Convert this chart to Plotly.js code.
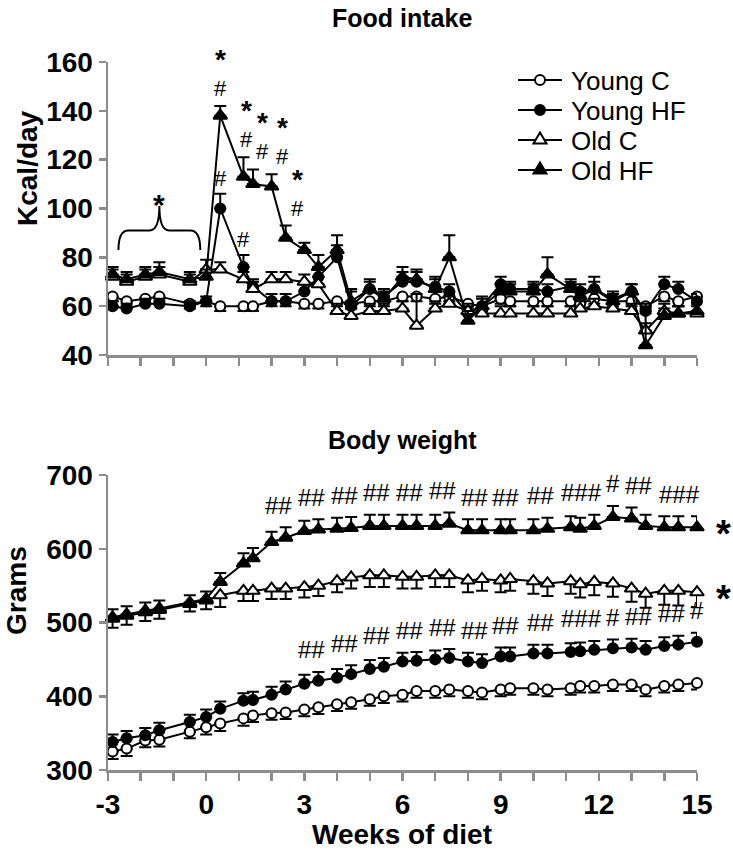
<!DOCTYPE html>
<html><head><meta charset="utf-8">
<script src="https://cdn.plot.ly/plotly-3.0.1.min.js"></script>
<style>html,body{margin:0;padding:0;background:#fff}#chart{width:733px;height:853px}</style>
</head><body><div id="chart"></div>
<script>
// ---------- DATA ----------
const weeks = [-2.86,-2.43,-1.86,-1.43,-0.5,0,0.43,1.14,1.43,2,2.43,3,3.43,4,4.43,5,5.43,6,6.43,7,7.43,8,8.43,9,9.29,10,10.43,11.14,11.43,11.86,12.43,13,13.43,14,14.43,15];
const seriesNames = ['Young C','Young HF','Old C','Old HF'];
const weekTickVals = [-3,0,3,6,9,12,15];
const weekTickText = ['-3','0','3','6','9','12','15'];

// Food intake (Kcal/day)
const foodYoungC    = [64,62,63,64,61,62,60,60,60,62,62,61,61,62,61,62,62,64,64,63,64,61,60,63,62,62,62,62,61,63,62,62,60,64,62,64];
const foodYoungCErr = [2,2,2,2,2,2,2,2,2,2,2,2,2,2,2,2,2,2,2,2,2,2,2,2,2,2,2,2,2,2,2,2,3,2,2,2];
const foodYoungHF    = [60,59,61,61,60,62,100,76,68,62,62,66,72,80,60,67,64,70,70,68,66,57,60,69,67,67,66,68,66,67,63,66,58,69,67,62];
const foodYoungHFErr = [2,2,2,2,2,2,6,5,3,3,3,3,4,5,7,4,3,4,4,4,3,3,3,3,3,3,3,3,3,5,3,3,3,3,3,3];
const foodOldC    = [72,70,72,73,70,75,75,71,67,71,71,70,69,58,56,58,58,59,52,59,61,58,57,57,57,57,57,57,59,60,59,58,50,58,57,57];
const foodOldCErr = [3,3,3,3,3,4,3,3,3,3,3,3,3,3,3,3,3,3,13,3,3,3,3,3,3,3,3,3,3,3,3,3,3,3,3,3];
const foodOldHF    = [73,71,73,74,71,72,138,113,110,109,88,83,76,83,62,67,63,72,71,67,80,54,60,66,66,66,73,67,64,67,62,66,44,56,57,58];
const foodOldHFErr = [3,3,3,4,3,3,4,8,6,5,5,3,5,6,4,3,3,4,4,4,9,4,4,3,3,3,7,3,3,3,3,3,15,3,3,3];

// Body weight (grams)
const bwYoungC    = [325,329,340,341,352,358,363,370,374,377,378,382,385,389,392,396,400,402,407,407,409,407,405,409,411,411,409,411,414,414,416,416,409,414,416,418];
const bwYoungCErr = [10,10,9,9,9,10,10,10,9,9,9,9,9,9,9,9,9,9,9,9,9,9,9,9,9,9,9,9,9,9,9,9,9,9,9,9];
const bwYoungHF    = [338,343,347,354,365,372,383,394,395,402,409,417,421,425,430,437,440,447,448,450,452,447,445,454,454,458,458,460,461,463,465,466,463,468,470,474];
const bwYoungHFErr = [10,10,10,10,10,10,10,10,11,11,11,12,12,12,12,12,12,12,12,12,12,12,12,12,12,12,12,12,12,12,12,12,12,12,12,12];
const bwOldC    = [505,509,514,517,525,530,537,543,543,546,546,548,550,556,561,564,564,562,562,564,564,557,559,557,559,556,553,556,552,555,553,546,539,543,543,541];
const bwOldCErr = [12,12,12,12,10,12,16,14,14,14,14,14,14,15,15,16,16,16,16,16,16,16,16,16,16,17,17,17,18,18,18,18,19,19,20,20];
const bwOldHF    = [507,511,516,519,527,532,555,580,587,609,615,624,626,627,628,631,631,631,631,631,634,625,625,625,625,625,627,629,627,631,643,641,631,629,629,629];
const bwOldHFErr = [11,11,11,11,10,10,12,14,14,14,14,14,14,15,15,15,15,15,15,15,15,15,15,15,15,15,15,15,15,15,15,15,15,15,15,15];

// Significance marks (groups of point indices)
const foodOldHFStarHash = [6,7,8,9,10];
const foodYoungHFHash = [6,7];
const bwOldHFHashGroups = [[9,10],[11,12],[13,14],[15,16],[17,18],[19,20],[21,22],[23,24],[25,26],[27,28,29],[30],[31,32],[33,34,35]];
const bwYoungHFHashGroups = [[11,12],[13,14],[15,16],[17,18],[19,20],[21,22],[23,24],[25,26],[27,28,29],[30],[31,32],[33,34],[35]];
const preDietIdx = [0,1,2,3,4,5];

// ---------- STYLE ----------
const FONT = 'Liberation Sans, Arial, Helvetica, sans-serif';
const AX = '#8c8c8c';
const plotTop = 62, plotBottom = 770, plotLeft = 108, plotW = 589;
const paperY = py => (plotBottom - py) / (plotBottom - plotTop);
const paperX = px => (px - plotLeft) / plotW;

function mkTrace(x, y, err, up, symbol, filled, xa, ya, name) {
  const zeros = err.map(() => 0);
  return {
    type: 'scatter', mode: 'lines+markers', x: x, y: y, name: name,
    showlegend: false, xaxis: xa, yaxis: ya, cliponaxis: false, hoverinfo: 'skip',
    line: {color: '#000', width: 2},
    marker: {symbol: symbol, size: symbol === 'circle' ? 10 : 12,
             color: filled ? '#000' : '#fff', line: {color: '#000', width: 2}},
    error_y: {type: 'data', symmetric: false,
              array: up ? err : zeros, arrayminus: up ? zeros : err,
              color: '#000', thickness: 2, width: 6}
  };
}

const traces = [
  mkTrace(weeks, foodYoungC, foodYoungCErr, false, 'circle', false, 'x', 'y', seriesNames[0]),
  mkTrace(weeks, foodYoungHF, foodYoungHFErr, true, 'circle', true, 'x', 'y', seriesNames[1]),
  mkTrace(weeks, foodOldC, foodOldCErr, true, 'triangle-up', false, 'x', 'y', seriesNames[2]),
  mkTrace(weeks, foodOldHF, foodOldHFErr, true, 'triangle-up', true, 'x', 'y', seriesNames[3]),
  mkTrace(weeks, bwYoungC, bwYoungCErr, false, 'circle', false, 'x2', 'y2', seriesNames[0]),
  mkTrace(weeks, bwYoungHF, bwYoungHFErr, true, 'circle', true, 'x2', 'y2', seriesNames[1]),
  mkTrace(weeks, bwOldC, bwOldCErr, false, 'triangle-up', false, 'x2', 'y2', seriesNames[2]),
  mkTrace(weeks, bwOldHF, bwOldHFErr, true, 'triangle-up', true, 'x2', 'y2', seriesNames[3])
];

const ann = [];
const hashFont = {family: FONT, size: 24, color: '#000'};
const smallHash = {family: FONT, size: 22, color: '#000'};
const starFont = {family: FONT, size: 30, color: '#000', weight: 'bold'};
const stackStar = {family: FONT, size: 28, color: '#000', weight: 'bold'};
function mark(xr, yr, x, y, text, font, yshift, xshift, yanchor) {
  ann.push({xref: xr, yref: yr, x: x, y: y, text: text, showarrow: false, font: font,
            xanchor: 'center', yanchor: yanchor || 'middle', yshift: yshift, xshift: xshift || 0, borderpad: 0});
}
// Food intake marks: '*' stacked over '#'
const starHashShift = [0, 3, 10, 11, 12];
foodOldHFStarHash.forEach((i, k) => {
  const top = foodOldHF[i] + foodOldHFErr[i];
  mark('x', 'y', weeks[i], top, '#', smallHash, 4, starHashShift[k], 'bottom');
  mark('x', 'y', weeks[i], top, '*', stackStar, 4 + 26, starHashShift[k], 'bottom');
});
foodYoungHFHash.forEach(i => {
  mark('x', 'y', weeks[i], foodYoungHF[i] + foodYoungHFErr[i], '#', smallHash, 2, 0, 'bottom');
});
// Brace over the pre-diet period
const preTop = Math.max(...preDietIdx.map(i => foodOldHF[i] + foodOldHFErr[i]));
const bL = weeks[preDietIdx[0]] + 0.18, bR = weeks[preDietIdx[5]] - 0.18, bM = weeks[preDietIdx[3]];
const yTip = preTop + 5, yH = preTop + 13, yCusp = preTop + 23;
const bracePath = `M${bL},${yTip} Q${bL},${yH} ${bL+0.3},${yH} L${bM-0.3},${yH} Q${bM},${yH} ${bM},${yCusp} Q${bM},${yH} ${bM+0.3},${yH} L${bR-0.3},${yH} Q${bR},${yH} ${bR},${yTip}`;
mark('x', 'y', bM, yCusp, '*', starFont, 2, 0);

// Body weight marks
function hashGroup(series, err, g) {
  const x = g.reduce((s, i) => s + weeks[i], 0) / g.length;
  const y = Math.max(...g.map(i => series[i] + err[i]));
  mark('x2', 'y2', x, y, '#'.repeat(g.length), hashFont, 22, 0);
}
bwOldHFHashGroups.forEach(g => hashGroup(bwOldHF, bwOldHFErr, g));
bwYoungHFHashGroups.forEach(g => hashGroup(bwYoungHF, bwYoungHFErr, g));
const last = weeks.length - 1;
const bigStar = {family: FONT, size: 38, color: '#000', weight: 'bold'};
mark('x2', 'y2', weeks[last], bwOldHF[last], '*', bigStar, -7, 26);
mark('x2', 'y2', weeks[last], bwOldC[last], '*', bigStar, -7, 26);

// Titles
const titleFont = {family: FONT, size: 25, color: '#000', weight: 'bold'};
function paperText(px, py, text, font, angle, xanchor) {
  ann.push({xref: 'paper', yref: 'paper', x: paperX(px), y: paperY(py), text: text, showarrow: false,
            xanchor: xanchor || 'center', yanchor: 'middle', textangle: angle || 0, font: font, borderpad: 0});
}
paperText(402, 18, 'Food intake', titleFont);
paperText(402, 440, 'Body weight', titleFont);
paperText(402, 834, 'Weeks of diet', {family: FONT, size: 28, color: '#000', weight: 'bold'});
paperText(27, 168, 'Kcal/day', {family: FONT, size: 28, color: '#000', weight: 'bold'}, -90);
paperText(16, 591, 'Grams', {family: FONT, size: 28, color: '#000', weight: 'bold'}, -90);

// Manual legend
const shapes = [{type: 'path', xref: 'x', yref: 'y', path: bracePath, line: {color: '#000', width: 2}}];
const legRowsPx = [80, 110, 140, 170];
const legSym = ['circle', 'circle', 'triangle', 'triangle'];
const legFill = ['#fff', '#000', '#fff', '#000'];
legRowsPx.forEach((py, k) => {
  const yp = paperY(py);
  shapes.push({type: 'line', xref: 'paper', yref: 'paper', x0: paperX(518), x1: paperX(562), y0: yp, y1: yp,
               line: {color: '#000', width: 2}});
  const common = {xref: 'paper', yref: 'paper', xsizemode: 'pixel', ysizemode: 'pixel',
                  xanchor: paperX(540), yanchor: yp, fillcolor: legFill[k], line: {color: '#000', width: 2}};
  if (legSym[k] === 'circle') shapes.push(Object.assign({type: 'circle', x0: -5, x1: 5, y0: -5, y1: 5}, common));
  else shapes.push(Object.assign({type: 'path', path: 'M-6.5,-3.5 L6.5,-3.5 L0,7.5 Z'}, common));
  paperText(570, py + 1, seriesNames[k], {family: FONT, size: 26, color: '#000'}, 0, 'left');
});

const tickFont = {family: FONT, size: 28, color: '#000', weight: 'bold'};
const xBase = {range: [-3, 15], showline: true, linecolor: AX, linewidth: 2.5, ticks: 'outside', tickcolor: AX,
  tickwidth: 2.5, ticklen: 8, tickmode: 'array', tickvals: weekTickVals, ticktext: weekTickText,
  minor: {tickmode: 'linear', tick0: -3, dtick: 1, ticks: 'outside', ticklen: 8, tickcolor: AX, tickwidth: 2.5},
  showgrid: false, zeroline: false, tickfont: tickFont, fixedrange: true};
const yBase = {showline: true, linecolor: AX, linewidth: 2.5, ticks: 'outside', tickcolor: AX, tickwidth: 2.5,
  ticklen: 7, showgrid: false, zeroline: false, tickfont: tickFont, fixedrange: true};

const layout = {
  width: 733, height: 853,
  margin: {l: plotLeft, r: 733 - plotLeft - plotW, t: plotTop, b: 853 - plotBottom},
  paper_bgcolor: '#fff', plot_bgcolor: '#fff', showlegend: false,
  xaxis: Object.assign({}, xBase, {anchor: 'y', domain: [0, 1], showticklabels: false}),
  xaxis2: Object.assign({}, xBase, {anchor: 'y2', domain: [0, 1], showticklabels: true}),
  yaxis: Object.assign({}, yBase, {anchor: 'x', domain: [paperY(355), 1], range: [40, 160], dtick: 20, tick0: 40}),
  yaxis2: Object.assign({}, yBase, {anchor: 'x2', domain: [0, paperY(475)], range: [300, 700], dtick: 100, tick0: 300}),
  annotations: ann, shapes: shapes, font: {family: FONT}
};
Plotly.newPlot('chart', traces, layout, {staticPlot: true, displayModeBar: false});
</script></body></html>
